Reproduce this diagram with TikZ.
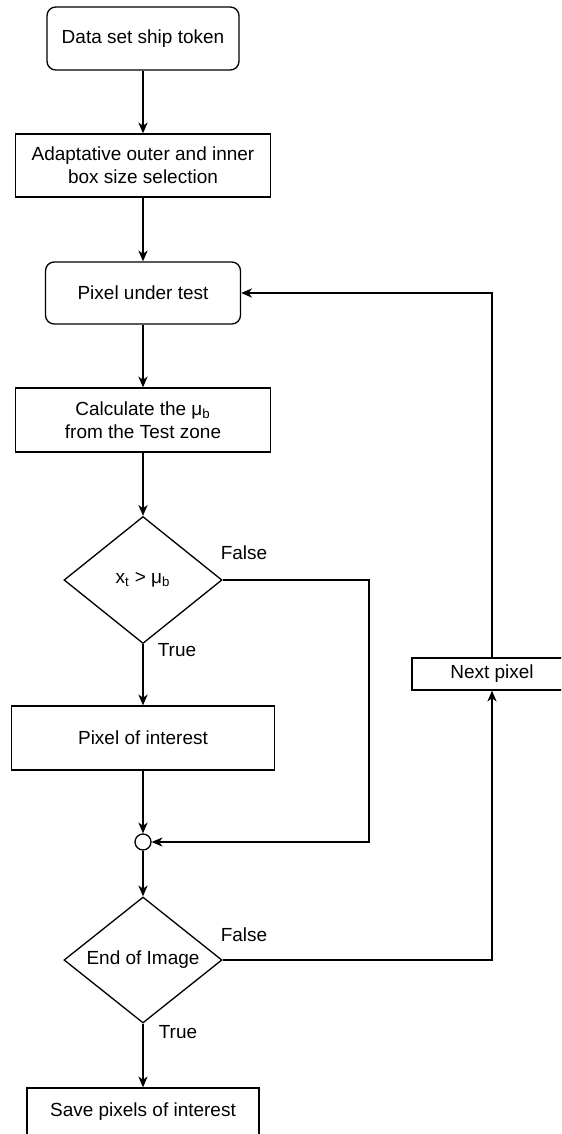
\documentclass[tikz,border=0pt]{standalone}
\usepackage{fontspec}
\setmainfont{Liberation Sans}
\usetikzlibrary{shapes.geometric,arrows.meta}

\tikzset{
  flowbox/.style={draw, line width=0.033cm, fill=white, align=center, inner sep=0pt,
    font=\fontsize{13.5}{16.4}\selectfont},
  roundbox/.style={flowbox, rounded corners=0.22cm},
  testbox/.style={flowbox, diamond, aspect=1.244},
  joinpoint/.style={draw, circle, line width=0.033cm, fill=white, minimum size=0.4cm, inner sep=0pt},
  flowline/.style={line width=0.033cm, -{Stealth[length=0.27cm, width=0.23cm, inset=0.08cm]}},
  branchlabel/.style={inner sep=0pt, font=\fontsize{13.5}{16.4}\selectfont}
}

\begin{document}
\begin{tikzpicture}[x=0.025cm, y=-0.025cm]
                \clip (0,0) rectangle (561,1134);

                % Steps of the main column
                \node [roundbox, minimum width=4.8cm, minimum height=1.575cm] (token) at (143,38.5) {Data set ship token};%
                \node [flowbox, minimum width=6.375cm, minimum height=1.575cm] (boxsize) at (143,165.5) {Adaptative outer and inner\\box size selection};%
                \node [roundbox, minimum width=4.875cm, minimum height=1.55cm] (pixel) at (143,293) {Pixel under test};%
                \node [flowbox, minimum width=6.375cm, minimum height=1.6cm] (calc) at (143,420) {Calculate the μ\textsubscript{b}\\from the Test zone};%
                \node [testbox, minimum width=3.95cm, minimum height=3.175cm] (test) at (143,580) {x\textsubscript{t} > μ\textsubscript{b}};%
                \node [flowbox, minimum width=6.575cm, minimum height=1.6cm] (interest) at (143,738) {Pixel of interest};%
                \node [joinpoint] (join) at (143,842) {};%
                \node [testbox, minimum width=3.95cm, minimum height=3.15cm] (endimg) at (143,960) {End of Image};%
                \node [flowbox, minimum width=5.8cm, minimum height=1.575cm, text height=0.34cm, text depth=0.48cm] (save) at (143,1119.5) {Save pixels of interest};%

                % Step of the loop
                \node [flowbox, minimum width=4cm, minimum height=0.8cm] (next) at (492,674) {Next pixel};%

                % Branch labels
                \node [branchlabel] (testfalse) at (244,553) {False};%
                \node [branchlabel] (testtrue) at (177,650) {True};%
                \node [branchlabel] (endfalse) at (244,935) {False};%
                \node [branchlabel] (endtrue) at (178,1032) {True};%

                % Drawing main column
                \draw [flowline] (token) -- (boxsize);%
                \draw [flowline] (boxsize) -- (pixel);%
                \draw [flowline] (pixel) -- (calc);%
                \draw [flowline] (calc) -- (test);%
                \draw [flowline] (test) -- (interest);%
                \draw [flowline] (interest) -- (join);%
                \draw [flowline] (join) -- (endimg);%
                \draw [flowline] (endimg) -- (save);%

                % Drawing false branch of test
                \coordinate (testturn) at (369,580);%
                \draw [flowline] (test.east) -- (testturn) |- (join.east);%

                % Drawing loop back to pixel under test
                \draw [flowline] (endimg.east) -| (next.south);%
                \draw [flowline] (next.north) |- (pixel.east);%
\end{tikzpicture}
\end{document}
